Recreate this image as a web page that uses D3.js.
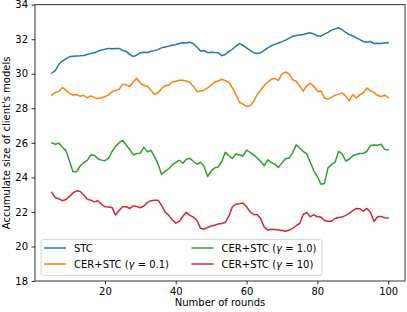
<!DOCTYPE html>
<html><head><meta charset="utf-8">
<script src="https://cdn.jsdelivr.net/npm/d3@7"></script>
<style>body{margin:0;background:#fff}svg{display:block;font-family:"DejaVu Sans",sans-serif}</style>
</head><body><svg id="c" width="407" height="312"></svg>
<script>
const rounds = d3.range(5, 101);
const stc = [30.03,30.2,30.55,30.75,30.88,30.98,31.02,31.03,31.04,31.06,31.12,31.18,31.22,31.3,31.38,31.42,31.47,31.45,31.47,31.47,31.35,31.3,31.12,31.0,31.08,31.22,31.25,31.23,31.3,31.34,31.4,31.5,31.55,31.6,31.65,31.68,31.75,31.8,31.78,31.83,31.73,31.55,31.32,31.35,31.22,31.25,31.23,31.22,31.05,31.12,31.28,31.42,31.6,31.75,31.65,31.5,31.35,31.22,31.18,31.22,31.35,31.5,31.62,31.7,31.78,31.86,31.95,32.05,32.17,32.22,32.25,32.28,32.33,32.37,32.3,32.2,32.18,32.3,32.4,32.53,32.6,32.66,32.55,32.4,32.27,32.2,32.08,31.98,31.87,31.82,31.87,31.75,31.77,31.76,31.78,31.79];
const cer01 = [28.77,28.92,28.98,29.2,29.05,28.86,28.77,28.79,28.7,28.75,28.6,28.72,28.62,28.57,28.6,28.68,28.78,28.96,29.04,29.1,29.4,29.36,29.26,29.54,29.74,29.46,29.32,29.28,29.05,28.8,28.9,29.15,29.33,29.32,29.52,29.57,29.62,29.62,29.58,29.5,29.27,28.98,29.0,29.05,29.18,29.35,29.52,29.58,29.68,29.6,29.5,29.18,28.8,28.35,28.24,28.1,28.15,28.4,28.8,29.05,29.32,29.52,29.68,29.72,29.62,29.98,30.1,30.0,29.65,29.57,29.3,28.98,29.3,29.45,29.28,28.98,29.0,28.6,28.53,28.65,28.75,28.82,28.88,28.72,28.44,28.8,28.6,28.78,28.9,29.18,29.0,28.92,28.74,28.68,28.76,28.63];
const cer1 = [26.0,25.92,25.98,25.75,25.55,24.95,24.32,24.33,24.66,24.85,24.98,25.3,25.28,25.08,25.0,24.97,25.1,25.5,25.8,26.0,26.15,25.88,25.62,25.3,25.38,25.4,25.75,25.48,25.57,25.2,24.78,24.18,24.35,24.5,24.72,24.87,24.99,24.82,25.05,25.1,24.92,24.76,24.88,24.65,24.05,24.37,24.55,24.6,24.92,25.45,25.25,25.1,25.35,25.3,25.24,25.58,25.45,25.3,25.12,24.92,24.68,25.02,24.86,24.77,24.58,24.84,25.08,25.12,25.42,25.88,25.7,25.5,25.36,24.88,24.38,24.05,23.6,23.65,24.55,24.75,24.88,25.5,25.36,24.95,25.05,25.25,25.33,25.38,25.4,25.5,25.85,25.88,25.86,25.92,25.62,25.6];
const cer10 = [23.13,22.82,22.76,22.65,22.72,22.9,23.1,23.22,23.18,22.98,22.74,22.68,22.58,22.65,22.45,22.3,22.28,22.26,21.82,22.08,22.3,22.3,22.2,22.35,22.32,22.24,22.35,22.55,22.65,22.67,22.68,22.38,22.0,21.8,21.55,21.35,21.45,21.75,21.98,21.8,21.7,21.5,21.05,21.0,21.1,21.18,21.23,21.3,21.33,21.4,21.75,22.3,22.45,22.48,22.52,22.3,22.0,21.85,21.83,21.6,21.12,20.95,21.0,20.98,20.95,20.92,20.88,20.95,21.05,21.2,21.33,21.85,21.97,21.72,21.85,21.72,21.7,21.5,21.46,21.46,21.62,21.68,21.7,21.8,21.92,22.08,22.2,22.18,22.05,22.2,21.98,21.45,21.72,21.74,21.66,21.65];
const xTicks = [20, 40, 60, 80, 100];
const yTicks = [18, 20, 22, 24, 26, 28, 30, 32, 34];
const seriesNames = ["STC", "CER+STC (γ = 0.1)", "CER+STC (γ = 1.0)", "CER+STC (γ = 10)"];
const colors = ["#1f77b4", "#ff7f0e", "#2ca02c", "#d62728"];
const seriesData = [stc, cer01, cer1, cer10];

const svg = d3.select("#c");
const L = 35, R = 405, T = 4.7, B = 281;
const x = d3.scaleLinear().domain([0.25, 104.75]).range([L, R]);
const y = d3.scaleLinear().domain([18, 34]).range([B, T]);

const line = d3.line().x((d, i) => x(rounds[i])).y(d => y(d));
seriesData.forEach((s, k) => {
  svg.append("path").datum(s).attr("d", line).attr("fill", "none")
    .attr("stroke", colors[k]).attr("stroke-width", 1.5).attr("stroke-linejoin", "round").attr("stroke-linecap", "square");
});

const gx = svg.append("g").attr("transform", `translate(0,${B})`)
  .call(d3.axisBottom(x).tickValues(xTicks).tickSize(3.5).tickPadding(3.5));
const gy = svg.append("g").attr("transform", `translate(${L},0)`)
  .call(d3.axisLeft(y).tickValues(yTicks).tickSize(3.5).tickPadding(3.5));
[gx, gy].forEach(g => {
  g.select(".domain").remove();
  g.selectAll("line").attr("stroke", "#000").attr("stroke-width", 0.8);
  g.selectAll("text").attr("font-size", 10).attr("fill", "#000").attr("font-family", "DejaVu Sans");
});
svg.append("rect").attr("x", L).attr("y", T).attr("width", R - L).attr("height", B - T)
  .attr("fill", "none").attr("stroke", "#000").attr("stroke-width", 0.8);

svg.append("text").attr("x", (L + R) / 2).attr("y", 306).attr("text-anchor", "middle")
  .attr("font-size", 10).text("Number of rounds");
svg.append("text").attr("transform", `translate(10,${(T + B) / 2}) rotate(-90)`).attr("text-anchor", "middle")
  .attr("font-size", 10).text("Accumulate size of client's models");

// legend
const lg = svg.append("g");
lg.append("rect").attr("x", 41).attr("y", 239.5).attr("width", 281).attr("height", 36).attr("rx", 2.5)
  .attr("fill", "#fff").attr("fill-opacity", 0.8).attr("stroke", "#cccccc").attr("stroke-width", 0.8);
const pos = [[44, 248], [44, 264], [191.5, 248], [191.5, 264]];
seriesNames.forEach((n, k) => {
  const [px, py] = pos[k];
  lg.append("line").attr("x1", px).attr("x2", px + 22).attr("y1", py).attr("y2", py)
    .attr("stroke", colors[k]).attr("stroke-width", 1.5);
  const t = lg.append("text").attr("x", px + 30).attr("y", py + 3.6).attr("font-size", 10);
  const parts = n.split("γ");
  if (parts.length === 1) { t.text(n); }
  else {
    t.append("tspan").text(parts[0]);
    t.append("tspan").attr("font-style", "italic").text("γ");
    t.append("tspan").text(parts[1]);
  }
});
</script></body></html>
